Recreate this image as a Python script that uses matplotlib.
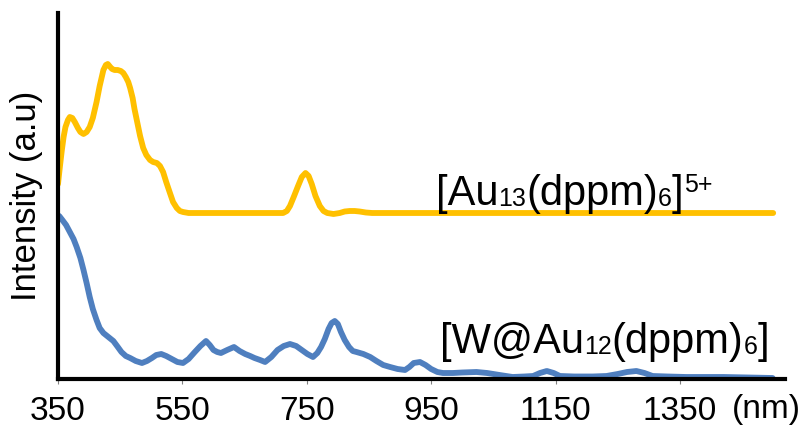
import matplotlib
matplotlib.use("Agg")
import matplotlib.pyplot as plt
from matplotlib.transforms import offset_copy

plt.rcParams["font.family"] = ["Liberation Sans", "DejaVu Sans"]

# Emission spectra (arbitrary intensity units, offset for clarity)
au13_nm = [350, 353, 356, 359, 362, 366, 369, 373, 377, 382, 386, 391, 396,
           401, 406, 412, 417, 423, 427, 430, 434, 437, 441, 446, 451, 455,
           459, 463, 466, 470, 473, 477, 482, 487, 492, 498, 503, 509, 514,
           519, 524, 530, 535, 541, 546, 551, 560, 712, 718, 723, 729, 736,
           742, 748, 753, 758, 764, 771, 777, 783, 793, 803, 811, 819, 827,
           835, 845, 855, 1500]
au13_int = [195, 212, 228, 242, 252, 259, 262, 261, 257, 251, 247, 245, 247,
            252, 261, 277, 293, 309, 314, 315, 312, 310, 309, 309, 308, 306,
            302, 297, 291, 281, 270, 258, 243, 231, 224, 219, 217, 216, 213,
            207, 197, 186, 177, 171, 168, 167, 166, 166, 168, 173, 182, 193,
            202, 206, 203, 195, 183, 173, 168, 166, 165, 166, 167.5, 168, 168,
            167.5, 166.5, 166, 166]

wau12_nm = [352, 357, 363, 369, 375, 380, 386, 391, 396, 401, 406, 412, 417,
            423, 431, 439, 445, 452, 459, 466, 475, 485, 493, 501, 508, 516,
            524, 533, 542, 551, 560, 570, 579, 588, 594, 600, 606, 612, 622,
            633, 642, 651, 659, 666, 675, 683, 693, 703, 713, 723, 733, 742,
            751, 760, 767, 773, 779, 785, 790, 795, 800, 805, 811, 818, 824,
            830, 841, 852, 862, 873, 884, 896, 908, 915, 922, 932, 941, 950,
            960, 969, 985, 1000, 1023, 1040, 1060, 1081, 1100, 1114, 1125,
            1136, 1147, 1157, 1180, 1210, 1232, 1250, 1265, 1280, 1293, 1306,
            1330, 1360, 1382, 1420, 1460, 1499]
wau12_int = [163, 159, 154, 147, 140, 132, 121, 109, 96, 82, 70, 59, 51,
             46, 42, 38, 33, 27, 23, 21, 18, 16, 18, 21, 24, 25,
             23, 20, 17, 16, 20, 27, 33, 38, 34, 29, 27, 26, 29,
             32, 28, 25, 23, 21, 19, 17, 22, 29, 33, 35, 33, 29,
             25, 22, 26, 32, 40, 50, 56, 58, 55, 47, 39, 32, 28,
             27, 25, 22, 18, 14, 12, 10, 9, 12, 16, 17, 14, 10,
             7, 6, 6, 6.5, 7, 6, 4, 2, 2.5, 3, 6,
             8, 6, 3, 2.5, 2.5, 3, 5, 7, 8, 6, 3,
             2.5, 2, 2, 2, 1.5, 1]

xticks = [350, 550, 750, 950, 1150, 1350]

# Formula labels as (text, size in pt, baseline shift in pt)
label_au13 = [("[Au", 30, 0), ("13", 18, -1), ("(dppm)", 30, 0),
              ("6", 18, -1), ("]", 30, 0), ("5+", 18, 9.5)]
label_wau12 = [("[W@Au", 30, 0), ("12", 18, -1), ("(dppm)", 30, 0),
               ("6", 18, -1), ("]", 30, 0)]

fig = plt.figure(figsize=(8.08, 4.26), dpi=100)
ax = fig.add_axes([58 / 808, 47 / 426, 727 / 808, 366 / 426])

ax.plot(au13_nm, au13_int, color="#FFC000", lw=4.2,
        solid_joinstyle="round", solid_capstyle="round")
ax.plot(wau12_nm, wau12_int, color="#4F7FBF", lw=4.2,
        solid_joinstyle="round", solid_capstyle="round")

ax.set_xlim(350, 1519)
ax.set_ylim(0, 366)

for side in ("top", "right"):
    ax.spines[side].set_visible(False)
for side in ("left", "bottom"):
    ax.spines[side].set_linewidth(3)
    ax.spines[side].set_color("black")
    ax.spines[side].set_zorder(3)

ax.set_yticks([])
ax.set_xticks(xticks)
ax.set_xticklabels([str(t) for t in xticks])
ax.tick_params(axis="x", direction="out", length=3.5, width=0.8,
               color="#808080", labelsize=24, pad=9)

ax.set_ylabel("Intensity (a.u)", fontsize=25)
ax.yaxis.set_label_coords(-0.02, 0.5)

fig.text(732 / 808, 8 / 426, "(nm)", fontsize=24, va="baseline", ha="left")


def formula(x, y, pieces):
    """Write a chemical formula piece by piece, with smaller sub/superscripts."""
    renderer = fig.canvas.get_renderer()
    xoff = 0.0
    for s, size, dy in pieces:
        tr = offset_copy(ax.transData, fig=fig, x=xoff, y=dy, units="points")
        t = ax.text(x, y, s, fontsize=size, va="baseline", ha="left",
                    transform=tr)
        xoff += t.get_window_extent(renderer).width * 72.0 / fig.dpi


formula(958, 174, label_au13)
formula(964, 26, label_wau12)

fig.savefig("out.png", dpi=100)
